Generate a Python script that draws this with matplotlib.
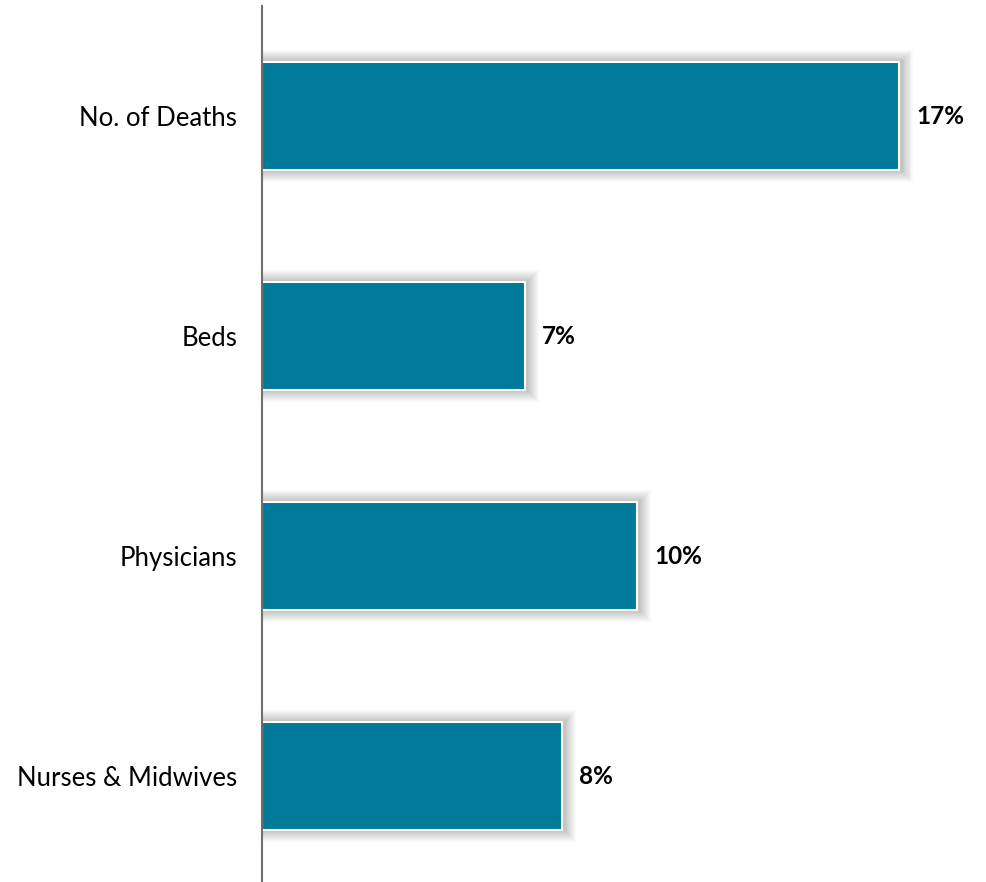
import numpy as np
import matplotlib.pyplot as plt
from matplotlib.patches import Rectangle

categories = ['No. of Deaths', 'Beds', 'Physicians', 'Nurses & Midwives']
values = [17, 7, 10, 8]
labels = ['17%', '7%', '10%', '8%']

W, H = 986, 882
fig = plt.figure(figsize=(W / 100, H / 100), dpi=100)
ax = fig.add_axes([262 / W, -4 / H, (W - 262) / W, 880 / H])

xmax = (W - 262) / 37.5
ax.set_xlim(0, xmax)
ax.set_ylim(3.5, -0.5)

y = np.arange(len(categories))
bar_h = 0.49
px_x = 1 / 37.5   # one pixel in data units
px_y = 1 / 220

# soft shadow behind each bar
for yi, v in zip(y, values):
    for k in range(1, 13):
        r = Rectangle((0, yi - bar_h / 2 - k * px_y),
                      v + k * px_x + 2 * px_x, bar_h + 2 * k * px_y,
                      facecolor='black', edgecolor='none', alpha=0.018, zorder=1)
        ax.add_patch(r)

ax.barh(y, values, height=bar_h, color='#007A9B', edgecolor='white',
        linewidth=1.5, zorder=3)

for yi, v, lab in zip(y, values, labels):
    ax.text(v + 17 * px_x, yi, lab, va='center', ha='left', fontsize=17.5,
            fontweight='bold', family='Lato', color='black')

ax.set_yticks(y)
ax.set_yticklabels(categories, fontsize=18.5, family='Lato')
ax.tick_params(axis='y', length=0, pad=18)
ax.set_xticks([])
for s in ['top', 'right', 'bottom']:
    ax.spines[s].set_visible(False)
ax.spines['left'].set_color('#6f6f6f')
ax.spines['left'].set_linewidth(1.5)
ax.spines['left'].set_zorder(4)

fig.savefig('out.png', dpi=100)
